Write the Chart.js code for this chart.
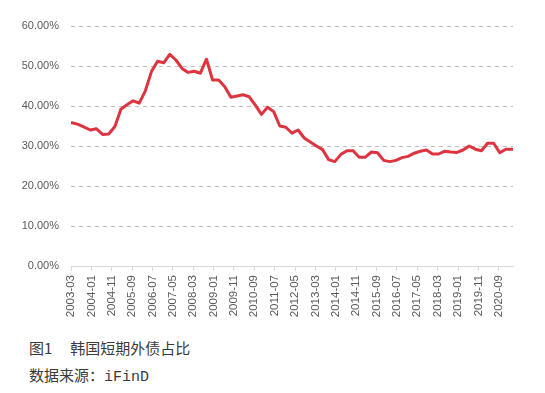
<!DOCTYPE html>
<html>
<head>
<meta charset="utf-8">
<script src="https://cdn.jsdelivr.net/npm/chart.js@4.4.0/dist/chart.umd.min.js"></script>
<style>
  body { margin: 0; background: #fff; }
  #wrap { position: relative; width: 545px; height: 393px; }
  canvas { position: absolute; left: 0; top: 0; }
  .cap { position: absolute; left: 29px; font-family: "Noto Sans CJK SC"; font-size: 15px; line-height: 20px; color: #3a3a3a; white-space: nowrap; }
  .mono { font-family: "Liberation Mono"; font-size: 15px; }
</style>
</head>
<body>
<div id="wrap">
  <canvas id="debtLine" width="545" height="330"></canvas>
  <div class="cap" style="top:338px">图1<span style="margin-left:18px">韩国短期外债占比</span></div>
  <div class="cap" style="top:365px">数据来源：<span class="mono">iFinD</span></div>
</div>
<script>
// quarterly observations
const quarters = [
  '2003-03', '2003-06', '2003-09', '2003-12',
  '2004-03', '2004-06', '2004-09', '2004-12',
  '2005-03', '2005-06', '2005-09', '2005-12',
  '2006-03', '2006-06', '2006-09', '2006-12',
  '2007-03', '2007-06', '2007-09', '2007-12',
  '2008-03', '2008-06', '2008-09', '2008-12',
  '2009-03', '2009-06', '2009-09', '2009-12',
  '2010-03', '2010-06', '2010-09', '2010-12',
  '2011-03', '2011-06', '2011-09', '2011-12',
  '2012-03', '2012-06', '2012-09', '2012-12',
  '2013-03', '2013-06', '2013-09', '2013-12',
  '2014-03', '2014-06', '2014-09', '2014-12',
  '2015-03', '2015-06', '2015-09', '2015-12',
  '2016-03', '2016-06', '2016-09', '2016-12',
  '2017-03', '2017-06', '2017-09', '2017-12',
  '2018-03', '2018-06', '2018-09', '2018-12',
  '2019-03', '2019-06', '2019-09', '2019-12',
  '2020-03', '2020-06', '2020-09', '2020-12',
  '2021-03'
]

// 短期外债占比 (%)
const shortDebtShare = [
  35.8, 35.4, 34.7, 34.0,
  34.3, 32.9, 33.0, 34.8,
  39.2, 40.3, 41.3, 40.7,
  43.8, 48.6, 51.2, 50.8,
  52.9, 51.5, 49.4, 48.4,
  48.7, 48.2, 51.7, 46.5,
  46.5, 44.8, 42.2, 42.5,
  42.8, 42.3, 40.2, 37.9,
  39.7, 38.6, 35.0, 34.7,
  33.2, 34.0, 32.0, 31.0,
  30.0, 29.1, 26.6, 26.1,
  27.9, 28.8, 28.8, 27.2,
  27.2, 28.5, 28.3, 26.4,
  26.1, 26.4, 27.1, 27.4,
  28.2, 28.7, 29.0, 28.0,
  28.0, 28.7, 28.5, 28.4,
  29.0, 30.0, 29.2, 28.8,
  30.7, 30.7, 28.3, 29.2,
  29.2
]

const tickLabels = [
  '2003-03', '2004-01', '2004-11', '2005-09', '2006-07', '2007-05',
  '2008-03', '2009-01', '2009-11', '2010-09', '2011-07', '2012-05',
  '2013-03', '2014-01', '2014-11', '2015-09', '2016-07', '2017-05',
  '2018-03', '2019-01', '2019-11', '2020-09'
]

const yTicks = [0, 10, 20, 30, 40, 50, 60]

// month slots counted from 2003-03
const monthIdx = (s) => {
  const [y, m] = s.split('-').map(Number)
  return (y - 2003) * 12 + (m - 3)
}
const lastSlot = monthIdx(quarters[quarters.length - 1]) + 1

const points = quarters.map((q, i) => ({ x: monthIdx(q) + 0.5, y: shortDebtShare[i] }))
const tickByIdx = {}
tickLabels.forEach(t => { tickByIdx[monthIdx(t)] = t })

const ctx = document.getElementById('debtLine').getContext('2d')
new Chart(ctx, {
  type: 'line',
  data: {
    datasets: [{
      data: points,
      borderColor: '#DE3440',
      borderWidth: 3,
      pointRadius: 0,
      tension: 0,
      borderJoinStyle: 'round',
      borderCapStyle: 'round'
    }]
  },
  options: {
    responsive: false,
    animation: false,
    layout: { padding: { left: 0, top: 26, right: 32, bottom: 0 } },
    plugins: { legend: { display: false }, tooltip: { enabled: false } },
    scales: {
      x: {
        type: 'linear',
        min: 0,
        max: lastSlot,
        afterBuildTicks: (scale) => {
          scale.ticks = tickLabels.map(t => ({ value: monthIdx(t) }))
        },
        afterFit: (scale) => { scale.height = 64 },
        grid: { drawOnChartArea: false, drawTicks: true, tickLength: 5, color: '#D9D9D9' },
        border: { display: true, color: '#D9D9D9', width: 1 },
        ticks: {
          autoSkip: false,
          minRotation: 90,
          maxRotation: 90,
          padding: 4,
          color: '#595959',
          font: { family: 'Liberation Sans', size: 11.5 },
          callback: (v) => tickByIdx[v] || ''
        }
      },
      y: {
        min: 0,
        max: 60,
        afterBuildTicks: (scale) => {
          scale.ticks = yTicks.map(v => ({ value: v }))
        },
        afterFit: (scale) => { scale.width = 71 },
        grid: {
          drawTicks: false,
          color: (c) => c.tick && c.tick.value === 0 ? 'rgba(0,0,0,0)' : '#BDBDBD',
          lineWidth: 1
        },
        border: { display: false, dash: [4, 4] },
        ticks: {
          padding: 12,
          color: '#595959',
          font: { family: 'Liberation Sans', size: 11 },
          callback: (v) => v.toFixed(2) + '%'
        }
      }
    }
  }
})
</script>
</body>
</html>
